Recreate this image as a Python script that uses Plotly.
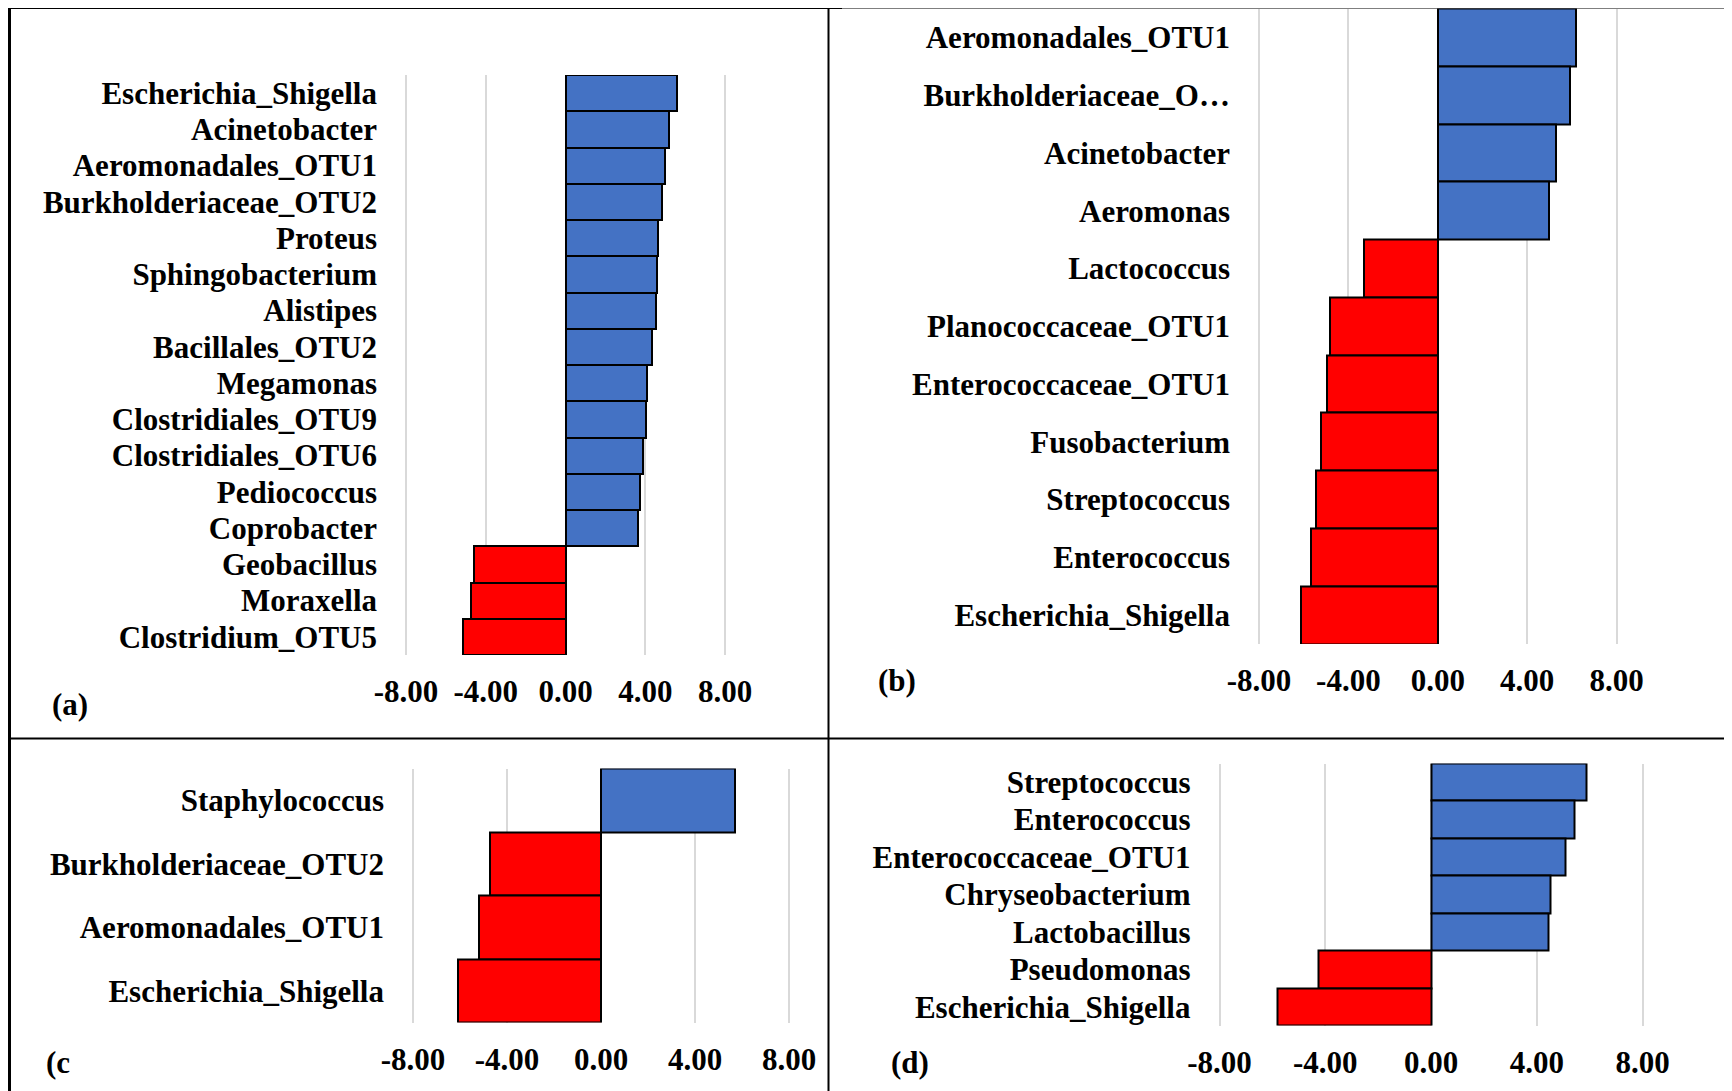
import plotly.graph_objects as go

W, H = 1732, 1091
OFF = 8  # the page body has an 8px margin; compensate so pixel targets line up
FW, FH = W - OFF, H - OFF

# ---------------- data ----------------
a_taxa = ["Escherichia_Shigella", "Acinetobacter", "Aeromonadales_OTU1", "Burkholderiaceae_OTU2",
          "Proteus", "Sphingobacterium", "Alistipes", "Bacillales_OTU2", "Megamonas",
          "Clostridiales_OTU9", "Clostridiales_OTU6", "Pediococcus", "Coprobacter",
          "Geobacillus", "Moraxella", "Clostridium_OTU5"]
a_vals = [5.57, 5.21, 5.01, 4.82, 4.63, 4.57, 4.54, 4.35, 4.10, 4.02, 3.91, 3.74, 3.63,
          -4.60, -4.74, -5.15]

b_taxa = ["Aeromonadales_OTU1", "Burkholderiaceae_O…", "Acinetobacter", "Aeromonas",
          "Lactococcus", "Planococcaceae_OTU1", "Enterococcaceae_OTU1", "Fusobacterium",
          "Streptococcus", "Enterococcus", "Escherichia_Shigella"]
b_vals = [6.19, 5.91, 5.28, 4.97, -3.32, -4.82, -4.97, -5.21, -5.44, -5.67, -6.11]

c_taxa = ["Staphylococcus", "Burkholderiaceae_OTU2", "Aeromonadales_OTU1", "Escherichia_Shigella"]
c_vals = [5.72, -4.73, -5.20, -6.07]

d_taxa = ["Streptococcus", "Enterococcus", "Enterococcaceae_OTU1", "Chryseobacterium",
          "Lactobacillus", "Pseudomonas", "Escherichia_Shigella"]
d_vals = [5.90, 5.44, 5.09, 4.52, 4.46, -4.24, -5.81]

x_ticks = [-8, -4, 0, 4, 8]
x_ticktext = ["-8.00", "-4.00", "0.00", "4.00", "8.00"]
panel_labels = ["(a)", "(b)", "(c", "(d)"]

BLUE = "#4472C4"
RED = "#FF0000"
FONT = "Liberation Serif"
FS = 31
EDGE_PX = 3  # extend the range a few pixels so the edge gridlines (-8, 8) are drawn


def px_x(p):
    return (p - OFF) / FW


def px_y(p):
    return 1 - (p - OFF) / FH


# panel geometry in pixels: (x_left, x_right, y_top, y_bottom)
panels = [
    (a_taxa, a_vals, (406, 725, 75, 655)),
    (b_taxa, b_vals, (1259, 1616.5, 8.5, 644)),
    (c_taxa, c_vals, (413, 789, 768.5, 1022.5)),
    (d_taxa, d_vals, (1219.5, 1642.5, 763.5, 1025.5)),
]
label_pos = [(70, 704), (897, 680), (58, 1062), (910, 1062)]

fig = go.Figure()
layout = {}
for i, (taxa, vals, (xl, xr, yt, yb)) in enumerate(panels):
    k = "" if i == 0 else str(i + 1)
    colors = [BLUE if v >= 0 else RED for v in vals]
    fig.add_trace(go.Bar(
        x=vals, y=taxa, orientation="h",
        marker=dict(color=colors, line=dict(color="black", width=2)),
        xaxis="x" + k, yaxis="y" + k, showlegend=False,
    ))
    n = len(taxa)
    ppu = (xr - xl) / 16.0
    eps = EDGE_PX / ppu
    layout["xaxis" + k] = dict(
        domain=[px_x(xl - EDGE_PX), px_x(xr + EDGE_PX)], anchor="y" + k,
        range=[-8 - eps, 8 + eps],
        tickmode="array", tickvals=x_ticks, ticktext=x_ticktext,
        showgrid=True, gridcolor="#d9d9d9", gridwidth=1.5,
        zeroline=True, zerolinecolor="#d9d9d9", zerolinewidth=1.5,
        showline=False, ticks="", ticklabelstandoff=15, automargin=False,
        tickfont=dict(family=FONT, size=FS, color="black", weight="bold"),
        fixedrange=True,
    )
    layout["yaxis" + k] = dict(
        domain=[px_y(yb), px_y(yt)], anchor="x" + k,
        type="category", categoryorder="array", categoryarray=taxa,
        tickmode="array", tickvals=taxa, ticktext=taxa,
        range=[n - 0.5, -0.5], showgrid=False, zeroline=False, showline=False,
        ticks="", ticklabelstandoff=25, automargin=False,
        tickfont=dict(family=FONT, size=FS, color="black", weight="bold"),
        fixedrange=True,
    )

annotations = []
for txt, (lx, ly) in zip(panel_labels, label_pos):
    annotations.append(dict(
        text=txt, x=px_x(lx), y=px_y(ly), xref="paper", yref="paper",
        showarrow=False, xanchor="center", yanchor="middle",
        font=dict(family=FONT, size=FS, color="black", weight="bold"),
    ))

shapes = [
    dict(type="line", xref="paper", yref="paper", x0=px_x(8), x1=px_x(842), y0=px_y(7.5), y1=px_y(7.5),
         line=dict(color="black", width=3)),
    dict(type="line", xref="paper", yref="paper", x0=px_x(842), x1=1, y0=px_y(7.5), y1=px_y(7.5),
         line=dict(color="black", width=2)),
    dict(type="line", xref="paper", yref="paper", x0=px_x(9.5), x1=px_x(9.5), y0=px_y(6), y1=0,
         line=dict(color="black", width=3)),
    dict(type="line", xref="paper", yref="paper", x0=px_x(828.5), x1=px_x(828.5), y0=px_y(7), y1=0,
         line=dict(color="black", width=2)),
    dict(type="line", xref="paper", yref="paper", x0=px_x(9), x1=1, y0=px_y(738.5), y1=px_y(738.5),
         line=dict(color="black", width=2)),
]

fig.update_layout(
    width=FW, height=FH, margin=dict(l=0, r=0, t=0, b=0, autoexpand=False),
    paper_bgcolor="white", plot_bgcolor="white",
    bargap=0, annotations=annotations, shapes=shapes,
    **layout,
)

fig.write_html("out.html", config={"displayModeBar": False})
